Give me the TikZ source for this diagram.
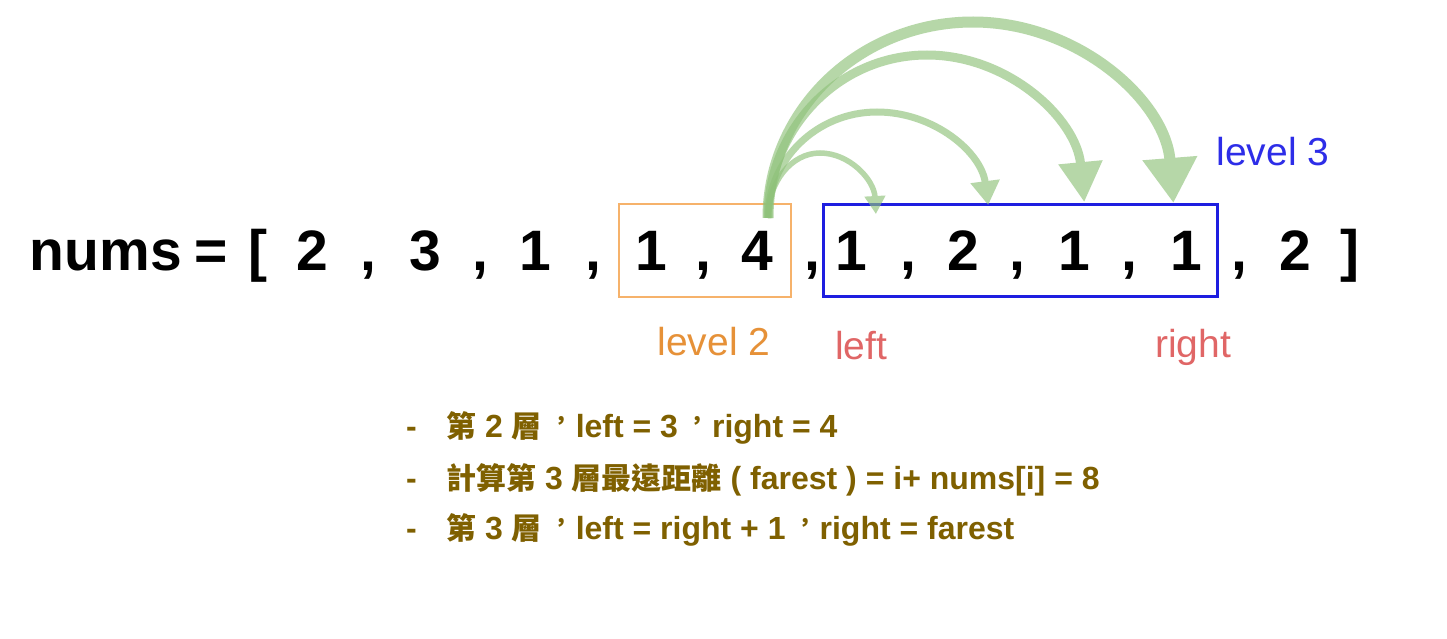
\documentclass[tikz,border=0pt]{standalone}
\usepackage{fontspec}
\setmainfont{Liberation Sans}
\newfontfamily\cjk{Noto Sans CJK TC}
\newcommand\zhtxt[1]{{\cjk\fontsize{30}{34}\selectfont #1}}
\newcommand\tccomma{\makebox[34pt][l]{\hspace{8.5pt}\rlap{\raisebox{9pt}{{\cjk\fontsize{22}{24}\selectfont ，}}}}}
\usetikzlibrary{arrows.meta}
\definecolor{boxorange}{RGB}{246,178,107}
\definecolor{txtorange}{RGB}{230,145,56}
\definecolor{boxblue}{RGB}{30,30,224}
\definecolor{txtblue}{RGB}{45,45,232}
\definecolor{txtred}{RGB}{224,102,102}
\definecolor{arcgreen}{RGB}{143,194,122}
\definecolor{olive}{RGB}{127,96,0}
\begin{document}
\begin{tikzpicture}[x=1pt,y=-1pt,
  tok/.style={font=\fontsize{57}{60}\selectfont\bfseries, inner sep=0pt, anchor=base},
  lbl/.style={font=\fontsize{39}{42}\selectfont, inner sep=0pt},
  note/.style={font=\fontsize{32}{34}\selectfont\bfseries, text=olive, inner sep=0pt, anchor=base west},
  hop/.style={draw=arcgreen, line cap=butt}
]
\useasboundingbox (0,0) rectangle (1447,639);
\fill[white] (0,0) rectangle (1447,639);

% main array
\node[tok] (nums) at (106,270) {nums};
\node[tok] (eq) at (211,270) {=};
\node[tok] (lb) at (258,270) {[};
\node[tok] (a0) at (312,270) {2};
\node[tok] (c0) at (368,270) {,};
\node[tok] (a1) at (425,270) {3};
\node[tok] (c1) at (480,270) {,};
\node[tok] (a2) at (535,270) {1};
\node[tok] (c2) at (593,270) {,};
\node[tok] (a3) at (651,270) {1};
\node[tok] (c3) at (703,270) {,};
\node[tok] (a4) at (757,270) {4};
\node[tok] (c4) at (812,270) {,};
\node[tok] (a5) at (851,270) {1};
\node[tok] (c5) at (908,270) {,};
\node[tok] (a6) at (963,270) {2};
\node[tok] (c6) at (1017,270) {,};
\node[tok] (a7) at (1074,270) {1};
\node[tok] (c7) at (1129,270) {,};
\node[tok] (a8) at (1186,270) {1};
\node[tok] (c8) at (1239,270) {,};
\node[tok] (a9) at (1295,270) {2};
\node[tok] (rb) at (1350,270) {]};

% level boxes
\node[draw=boxorange, line width=2.5pt, minimum width=172pt, minimum height=93pt, inner sep=0pt] (lv2box) at (705,250.5) {};
\node[draw=boxblue, line width=3pt, minimum width=394pt, minimum height=92pt, inner sep=0pt] (lv3box) at (1020,250) {};

% labels
\node[lbl, text=txtorange] (lv2) at (714,342) {level 2};
\node[lbl, text=txtblue] (lv3) at (1273,152) {level 3};
\node[lbl, text=txtred] (left) at (861,346) {left};
\node[lbl, text=txtred] (right) at (1193,347) {right};

% hops
\coordinate (s) at (768,218);
\begin{scope}[transparency group, opacity=0.65]
\draw[hop, line width=5.5pt, -{Triangle[width=20pt,length=18pt]}] (s)
  arc[start angle=180, end angle=270, x radius=52, y radius=65]
  arc[start angle=270, end angle=356.5, x radius=56, y radius=65];
\end{scope}
\begin{scope}[transparency group, opacity=0.65]
\draw[hop, line width=7pt, -{Triangle[width=28pt,length=24pt]}] (s)
  arc[start angle=180, end angle=270, x radius=109, y radius=106]
  arc[start angle=270, end angle=353, x radius=112, y radius=106];
\end{scope}
\begin{scope}[transparency group, opacity=0.65]
\draw[hop, line width=9pt, -{Triangle[width=42pt,length=40pt]}] (s)
  arc[start angle=180, end angle=270, x radius=159, y radius=163]
  arc[start angle=270, end angle=354.4, x radius=158, y radius=163];
\end{scope}
\begin{scope}[transparency group, opacity=0.65]
\draw[hop, line width=11pt, -{Triangle[width=52pt,length=45pt]}] (s)
  arc[start angle=180, end angle=270, x radius=205, y radius=196]
  arc[start angle=270, end angle=355.6, x radius=201, y radius=196];
\end{scope}

% notes
\node[note] (d1) at (406,437) {-};
\node[note] (n1) at (446,437) {\zhtxt{第} 2 \zhtxt{層}\tccomma left = 3\tccomma right = 4};
\node[note] (d2) at (406,489) {-};
\node[note] (n2) at (446,489) {\zhtxt{計算第} 3 \zhtxt{層最遠距離} ( farest ) = i+ nums[i] = 8};
\node[note] (d3) at (406,539) {-};
\node[note] (n3) at (446,539) {\zhtxt{第} 3 \zhtxt{層}\tccomma left = right + 1\tccomma right = farest};
\end{tikzpicture}
\end{document}
